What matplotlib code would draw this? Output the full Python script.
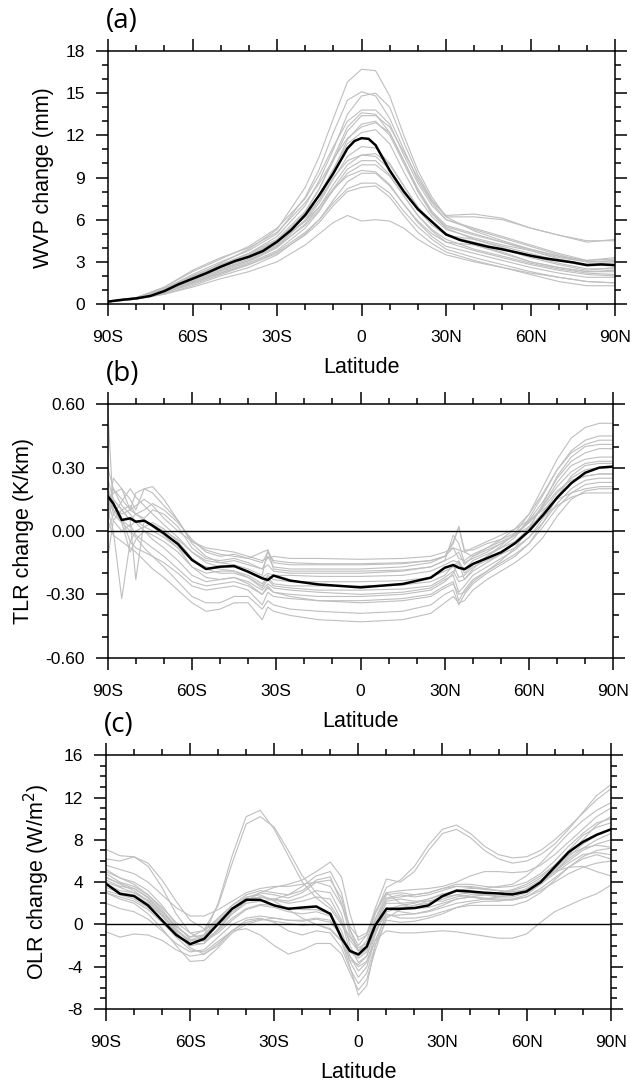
import matplotlib.pyplot as plt
from matplotlib.ticker import MultipleLocator, FormatStrFormatter

plt.rcParams['font.family'] = ['Liberation Sans', 'DejaVu Sans']
plt.rcParams['axes.unicode_minus'] = False

# Latitude tick labels
lat_ticks = [-90, -60, -30, 0, 30, 60, 90]
lat_labels = ["90S", "60S", "30S", "0", "30N", "60N", "90N"]

# ---------------- (a) WVP change (mm) ----------------
lat_a_mean = [-90, -85, -80, -75, -70, -65, -60, -55, -50, -45, -40, -35, -30, -25, -20, -15,
              -10, -5, -2.5, 0, 2.5, 5, 10, 15, 20, 25, 30, 35, 40, 45, 50, 55, 60, 65, 70, 75,
              80, 85, 90]
wvp_mean = [0.17, 0.3, 0.4, 0.57, 0.92, 1.4, 1.8, 2.2, 2.65, 3.05, 3.36, 3.77, 4.43, 5.26, 6.33,
            7.75, 9.3, 11.07, 11.6, 11.8, 11.75, 11.3, 9.5, 8.0, 6.75, 5.85, 4.95, 4.55, 4.31,
            4.07, 3.89, 3.67, 3.44, 3.25, 3.1, 2.96, 2.77, 2.82, 2.77]

lat_a = [-90, -80, -70, -60, -50, -40, -30, -20, -15, -10, -5, 0, 5, 10, 15, 20, 25, 30,
         40, 50, 60, 70, 80, 90]
wvp_models = [
    [0.15, 0.35, 0.9, 1.9, 2.9, 3.9, 5.3, 8.3, 10.5, 13.2, 15.8, 16.7, 16.6, 14.8, 12.0, 9.5, 7.6, 6.2, 5.2, 4.5, 3.9, 3.4, 3.0, 3.0],
    [0.15, 0.4, 1.1, 2.1, 3.0, 3.8, 5.0, 7.6, 9.6, 12.2, 14.5, 15.1, 14.8, 13.2, 11.0, 8.8, 7.2, 6.0, 5.4, 4.8, 4.2, 3.6, 3.1, 3.2],
    [0.2, 0.4, 1.0, 2.0, 2.8, 3.6, 4.8, 7.0, 8.8, 11.0, 13.5, 14.8, 15.0, 14.0, 11.5, 9.2, 7.4, 6.2, 6.2, 6.0, 5.4, 4.9, 4.4, 4.6],
    [0.15, 0.45, 1.2, 2.3, 3.2, 4.1, 5.4, 7.5, 9.2, 11.2, 13.0, 13.8, 13.8, 12.8, 10.6, 8.6, 7.0, 6.0, 5.3, 4.7, 4.1, 3.5, 3.0, 3.0],
    [0.2, 0.4, 0.9, 1.7, 2.6, 3.3, 4.3, 6.5, 8.2, 10.4, 12.6, 13.6, 13.5, 12.2, 10.2, 8.2, 6.6, 5.6, 5.0, 4.4, 3.8, 3.2, 2.8, 2.7],
    [0.15, 0.4, 1.0, 1.9, 2.8, 3.6, 4.6, 6.6, 8.2, 10.2, 12.3, 13.4, 13.4, 12.6, 10.8, 9.0, 7.3, 6.3, 6.4, 6.1, 5.4, 4.9, 4.5, 4.5],
    [0.15, 0.35, 0.8, 1.6, 2.4, 3.1, 4.1, 6.0, 7.4, 9.5, 11.7, 12.8, 13.0, 12.0, 10.0, 8.0, 6.4, 5.4, 4.6, 4.1, 3.6, 3.1, 2.7, 2.8],
    [0.2, 0.45, 1.1, 2.0, 2.8, 3.5, 4.5, 6.4, 7.8, 9.6, 11.4, 12.2, 12.4, 11.4, 9.4, 7.6, 6.2, 5.3, 4.7, 4.2, 3.8, 3.3, 3.0, 3.1],
    [0.15, 0.4, 0.9, 1.7, 2.5, 3.2, 4.2, 5.9, 7.2, 8.9, 10.5, 11.2, 11.1, 10.0, 8.4, 6.9, 5.8, 5.0, 4.2, 3.6, 3.0, 2.6, 2.3, 2.3],
    [0.2, 0.4, 1.0, 1.9, 2.7, 3.4, 4.5, 6.2, 7.4, 9.0, 10.2, 10.6, 10.5, 9.6, 8.1, 6.7, 5.6, 4.9, 4.6, 4.0, 3.4, 2.9, 2.5, 2.5],
    [0.15, 0.35, 0.8, 1.5, 2.2, 2.9, 3.8, 5.4, 6.6, 8.2, 9.6, 10.2, 10.2, 9.2, 7.7, 6.3, 5.3, 4.6, 3.9, 3.4, 2.9, 2.5, 2.2, 2.1],
    [0.15, 0.4, 0.9, 1.6, 2.4, 3.1, 4.1, 5.6, 6.7, 8.1, 9.3, 9.9, 9.9, 9.1, 7.7, 6.3, 5.2, 4.4, 3.8, 3.3, 2.8, 2.4, 2.1, 2.0],
    [0.2, 0.45, 1.1, 1.9, 2.7, 3.4, 4.4, 5.9, 6.9, 8.2, 9.1, 9.5, 9.4, 8.5, 7.1, 5.8, 4.8, 4.1, 3.6, 3.1, 2.6, 2.2, 1.9, 1.9],
    [0.15, 0.35, 0.7, 1.3, 2.0, 2.6, 3.5, 5.0, 6.0, 7.4, 8.7, 9.3, 9.3, 8.4, 7.1, 5.9, 5.0, 4.4, 4.2, 3.7, 3.0, 2.6, 2.3, 2.4],
    [0.15, 0.35, 0.8, 1.4, 2.1, 2.8, 3.7, 5.1, 6.0, 7.2, 8.2, 8.6, 8.6, 7.9, 6.6, 5.5, 4.6, 3.9, 3.3, 2.8, 2.3, 1.9, 1.6, 1.5],
    [0.15, 0.4, 0.9, 1.5, 2.2, 2.8, 3.6, 4.9, 5.8, 7.0, 8.0, 8.3, 8.4, 7.6, 6.3, 5.1, 4.3, 3.7, 3.1, 2.6, 2.1, 1.6, 1.3, 1.3],
    [0.15, 0.35, 0.7, 1.2, 1.8, 2.3, 3.0, 4.2, 5.0, 5.8, 6.3, 5.9, 6.0, 5.9, 5.4, 4.6, 4.0, 3.5, 3.0, 2.6, 2.2, 1.9, 1.6, 1.5],
    [0.2, 0.45, 1.2, 2.4, 3.3, 4.0, 5.1, 7.2, 8.6, 10.3, 11.8, 12.6, 12.9, 12.2, 10.2, 8.1, 6.5, 5.5, 4.9, 4.4, 3.9, 3.4, 3.1, 3.3],
    [0.15, 0.35, 0.8, 1.5, 2.3, 3.0, 4.0, 5.7, 6.9, 8.5, 9.9, 10.6, 10.7, 9.9, 8.4, 6.9, 5.8, 4.9, 4.4, 3.9, 3.3, 2.8, 2.4, 2.6],
]

# ---------------- (b) TLR change (K/km) ----------------
lat_b = [-90, -88, -85, -82, -80, -77, -74, -70, -65,
         -60, -55, -50, -45, -40, -35, -33, -31,
         -25, -15, 0, 15, 25,
         30, 33, 35, 37, 40, 45, 50, 55, 60, 65, 70, 75, 80, 85, 90]
tlr_mean = [0.165, 0.13, 0.052, 0.06, 0.044, 0.049, 0.025, -0.011, -0.062,
            -0.137, -0.18, -0.169, -0.166, -0.193, -0.224, -0.232, -0.211,
            -0.235, -0.253, -0.267, -0.251, -0.221,
            -0.174, -0.161, -0.174, -0.181, -0.156, -0.129, -0.101, -0.058, 0.0, 0.076, 0.158,
            0.226, 0.276, 0.3, 0.305]
tlr_models = [
    [0.10, 0.12, 0.08, 0.10, 0.12, 0.15, 0.12, 0.06, 0.00, -0.05, -0.08, -0.09, -0.10, -0.12, -0.14, -0.13, -0.12,
     -0.13, -0.13, -0.134, -0.13, -0.12, -0.10, -0.08, -0.09, -0.10, -0.08, -0.05, -0.02, 0.01, 0.05, 0.10, 0.15, 0.18, 0.20, 0.21, 0.21],
    [0.05, 0.15, 0.10, 0.05, 0.08, 0.10, 0.13, 0.10, 0.04, -0.04, -0.10, -0.12, -0.11, -0.13, -0.15, -0.10, -0.14,
     -0.15, -0.155, -0.155, -0.15, -0.14, -0.12, -0.08, -0.13, -0.14, -0.11, -0.08, -0.05, -0.02, 0.02, 0.07, 0.12, 0.16, 0.18, 0.18, 0.18],
    [0.30, 0.20, 0.15, 0.10, 0.18, 0.20, 0.18, 0.12, 0.05, -0.06, -0.12, -0.15, -0.14, -0.16, -0.18, -0.12, -0.17,
     -0.18, -0.18, -0.18, -0.17, -0.15, -0.12, -0.05, 0.02, -0.10, -0.12, -0.08, -0.04, 0.01, 0.08, 0.18, 0.29, 0.37, 0.41, 0.43, 0.43],
    [0.15, 0.05, 0.10, 0.12, 0.08, 0.06, 0.10, 0.08, 0.02, -0.08, -0.13, -0.14, -0.13, -0.15, -0.18, -0.16, -0.19,
     -0.20, -0.20, -0.20, -0.19, -0.17, -0.14, -0.12, -0.10, -0.16, -0.12, -0.09, -0.06, -0.02, 0.05, 0.14, 0.25, 0.33, 0.37, 0.39, 0.39],
    [0.05, 0.25, 0.20, 0.10, 0.08, 0.05, 0.03, 0.00, -0.04, -0.10, -0.15, -0.17, -0.17, -0.19, -0.22, -0.20, -0.21,
     -0.21, -0.215, -0.215, -0.21, -0.19, -0.16, -0.14, -0.15, -0.18, -0.14, -0.11, -0.08, -0.05, 0.01, 0.09, 0.18, 0.25, 0.29, 0.30, 0.30],
    [0.58, 0.10, 0.05, 0.02, 0.05, 0.02, 0.00, -0.03, -0.08, -0.14, -0.17, -0.18, -0.19, -0.21, -0.25, -0.21, -0.23,
     -0.24, -0.24, -0.24, -0.235, -0.22, -0.19, -0.17, -0.14, -0.20, -0.16, -0.12, -0.08, -0.03, 0.06, 0.17, 0.29, 0.38, 0.43, 0.45, 0.45],
    [0.20, 0.12, 0.06, -0.05, 0.00, 0.02, 0.04, 0.01, -0.05, -0.13, -0.18, -0.20, -0.20, -0.22, -0.26, -0.22, -0.25,
     -0.26, -0.26, -0.26, -0.255, -0.24, -0.21, -0.16, -0.22, -0.21, -0.17, -0.14, -0.11, -0.08, -0.03, 0.04, 0.13, 0.20, 0.24, 0.25, 0.25],
    [-0.13, 0.05, 0.00, 0.03, -0.02, -0.05, -0.08, -0.12, -0.18, -0.24, -0.26, -0.25, -0.24, -0.26, -0.30, -0.27, -0.29,
     -0.30, -0.31, -0.31, -0.30, -0.28, -0.24, -0.20, -0.15, -0.23, -0.18, -0.12, -0.07, -0.01, 0.08, 0.21, 0.34, 0.44, 0.49, 0.51, 0.51],
    [0.10, 0.00, -0.32, -0.05, -0.08, -0.10, -0.12, -0.15, -0.20, -0.26, -0.28, -0.27, -0.26, -0.28, -0.35, -0.29, -0.31,
     -0.32, -0.33, -0.33, -0.32, -0.30, -0.26, -0.24, -0.33, -0.28, -0.23, -0.19, -0.15, -0.11, -0.06, 0.02, 0.11, 0.18, 0.22, 0.23, 0.23],
    [0.25, 0.15, 0.10, 0.05, -0.23, 0.05, 0.02, -0.02, -0.08, -0.17, -0.22, -0.23, -0.22, -0.25, -0.30, -0.26, -0.29,
     -0.31, -0.33, -0.34, -0.33, -0.31, -0.27, -0.25, -0.30, -0.29, -0.24, -0.19, -0.14, -0.08, 0.01, 0.13, 0.26, 0.35, 0.40, 0.41, 0.41],
    [0.00, 0.08, 0.04, 0.00, -0.03, -0.08, -0.12, -0.17, -0.24, -0.31, -0.34, -0.34, -0.31, -0.31, -0.37, -0.33, -0.35,
     -0.37, -0.38, -0.39, -0.38, -0.35, -0.30, -0.28, -0.35, -0.30, -0.25, -0.20, -0.16, -0.12, -0.06, 0.04, 0.16, 0.26, 0.31, 0.32, 0.32],
    [0.05, -0.02, -0.05, -0.08, -0.10, -0.14, -0.18, -0.22, -0.28, -0.34, -0.38, -0.37, -0.34, -0.34, -0.42, -0.36, -0.38,
     -0.40, -0.42, -0.43, -0.42, -0.39, -0.34, -0.31, -0.34, -0.33, -0.28, -0.23, -0.19, -0.15, -0.10, -0.03, 0.07, 0.15, 0.19, 0.20, 0.20],
    [0.12, 0.18, 0.20, 0.15, 0.10, 0.20, 0.21, 0.15, 0.05, -0.05, -0.09, -0.11, -0.12, -0.13, -0.10, -0.09, -0.15,
     -0.16, -0.16, -0.16, -0.155, -0.14, -0.12, -0.06, 0.02, -0.09, -0.09, -0.06, -0.04, -0.01, 0.04, 0.11, 0.19, 0.24, 0.26, 0.27, 0.27],
    [0.08, 0.20, 0.12, 0.08, 0.04, 0.00, -0.02, -0.05, -0.10, -0.17, -0.20, -0.19, -0.19, -0.22, -0.27, -0.23, -0.26,
     -0.27, -0.28, -0.28, -0.275, -0.26, -0.22, -0.19, -0.24, -0.23, -0.19, -0.15, -0.11, -0.06, 0.02, 0.12, 0.23, 0.31, 0.34, 0.35, 0.35],
    [0.22, 0.08, 0.14, 0.20, 0.16, 0.12, 0.08, 0.03, -0.03, -0.10, -0.14, -0.15, -0.16, -0.18, -0.21, -0.09, -0.18,
     -0.19, -0.19, -0.19, -0.185, -0.17, -0.14, -0.02, -0.06, -0.15, -0.13, -0.10, -0.06, -0.02, 0.04, 0.12, 0.21, 0.28, 0.32, 0.33, 0.33],
    [0.14, 0.10, 0.04, -0.10, -0.04, 0.00, -0.04, -0.08, -0.14, -0.21, -0.24, -0.23, -0.22, -0.24, -0.28, -0.25, -0.27,
     -0.28, -0.29, -0.30, -0.29, -0.27, -0.23, -0.21, -0.29, -0.26, -0.21, -0.17, -0.13, -0.09, -0.03, 0.06, 0.16, 0.23, 0.26, 0.27, 0.27],
]

# ---------------- (c) OLR change (W/m2) ----------------
lat_c = [-90, -85, -80, -75, -70, -65, -60, -55, -50, -45, -40, -35, -30, -25, -20, -15, -10,
         -6, -3, 0, 3, 6,
         10, 15, 20, 25, 30, 35, 40, 45, 50, 55, 60, 65, 70, 75, 80, 85, 90]
olr_mean = [3.85, 2.9, 2.68, 1.8, 0.38, -0.98, -1.86, -1.36, 0.06, 1.48, 2.33, 2.33, 1.8, 1.48, 1.6, 1.7, 1.0,
            -1.3, -2.5, -2.84, -2.1, -0.1,
            1.48, 1.48, 1.55, 1.8, 2.68, 3.2, 3.12, 3.0, 2.93, 2.84, 3.12, 4.0, 5.42, 6.84, 7.79, 8.48, 8.99]
olr_models = [
    [4.5, 3.8, 3.2, 2.2, 0.8, -0.8, -2.0, -1.0, 2.0, 6.5, 10.2, 10.8, 9.0, 6.5, 4.0, 2.5, 1.5, 0.0, -1.5, -2.5, -2.0, 0.0,
     2.5, 2.8, 2.6, 2.8, 3.2, 3.6, 3.5, 3.3, 3.2, 3.1, 3.3, 4.0, 5.0, 6.2, 7.2, 8.0, 8.6],
    [5.2, 4.4, 3.8, 2.8, 1.4, -0.2, -1.2, -0.5, 1.8, 5.8, 9.5, 10.2, 9.2, 7.0, 4.6, 3.0, 1.8, 0.2, -1.2, -2.2, -1.8, 0.5,
     2.8, 3.0, 2.8, 3.0, 3.4, 3.8, 3.8, 3.6, 3.5, 3.6, 4.0, 4.8, 6.0, 7.4, 8.6, 9.6, 10.0],
    [7.1, 6.5, 6.4, 5.5, 3.5, 1.0, -0.8, -1.5, -0.5, 1.0, 2.2, 3.0, 3.5, 3.8, 4.2, 5.0, 5.9, 4.5, 1.0, -1.5, -1.0, 1.0,
     3.0, 2.0, 1.5, 1.6, 2.0, 2.4, 2.6, 2.8, 3.0, 3.3, 3.8, 4.6, 5.6, 6.6, 7.2, 7.5, 7.3],
    [3.5, 3.0, 2.8, 2.0, 0.8, -0.5, -1.5, -1.0, 0.6, 1.8, 2.8, 3.2, 3.0, 2.8, 3.2, 4.2, 4.5, 2.0, -1.0, -2.5, -1.5, 1.0,
     3.5, 4.2, 5.5, 7.5, 9.0, 9.4, 8.6, 7.4, 6.6, 6.3, 6.4, 7.0, 8.0, 9.2, 10.5, 11.8, 12.8],
    [4.0, 3.5, 3.0, 2.3, 1.2, -0.2, -1.2, -1.0, 0.2, 1.5, 2.5, 3.0, 2.8, 2.5, 3.0, 4.0, 4.2, 2.5, -0.5, -2.0, -1.0, 1.5,
     4.3, 4.0, 5.0, 7.0, 8.6, 9.0, 8.2, 7.0, 6.2, 5.8, 6.0, 6.6, 7.6, 9.0, 10.6, 12.2, 13.2],
    [2.0, 1.5, 1.2, 0.5, -0.6, -1.8, -2.6, -2.4, -1.2, 0.0, 0.6, 0.8, 0.6, 0.4, 0.3, 0.5, 0.2, -1.0, -3.0, -4.0, -3.5, -1.5,
     -0.6, -0.8, -0.8, -0.7, -0.6, -0.7, -0.9, -1.1, -1.3, -1.3, -0.9, 0.2, 1.2, 1.8, 2.4, 2.9, 3.7],
    [-0.7, -1.2, -0.9, -1.0, -1.5, -2.4, -3.0, -2.8, -1.8, -0.6, 0.2, 0.5, 0.3, 0.1, -0.1, 0.0, -0.4, -1.5, -3.5, -5.0, -4.0, -1.5,
     0.8, 0.9, 1.0, 1.2, 1.6, 2.0, 2.2, 2.4, 2.6, 2.8, 3.4, 4.2, 5.0, 5.4, 5.5, 5.0, 4.6],
    [3.0, 2.6, 2.2, 1.4, 0.2, -1.2, -2.4, -2.6, -1.6, -0.6, -0.4, -1.0, -2.0, -2.8, -2.4, -1.8, -1.8, -2.8, -4.6, -6.2, -5.2, -2.5,
     0.6, 1.4, 1.8, 2.0, 2.4, 2.8, 3.0, 3.0, 3.0, 3.2, 3.6, 4.4, 5.6, 7.0, 8.4, 9.2, 9.6],
    [4.8, 4.0, 3.6, 2.8, 1.6, 0.2, -0.8, -0.6, 0.6, 1.8, 2.6, 2.8, 2.2, 1.4, 0.6, 0.0, -0.5, -1.6, -4.0, -6.7, -5.8, -2.0,
     1.2, 1.6, 1.8, 2.2, 2.6, 2.8, 2.6, 2.4, 2.3, 2.3, 2.6, 3.4, 4.4, 5.4, 6.2, 6.6, 6.2],
    [5.6, 5.2, 4.8, 4.0, 2.8, 1.6, 0.8, 0.8, 1.4, 2.2, 3.0, 3.4, 3.6, 3.6, 3.8, 4.0, 3.6, 1.8, -0.2, -1.2, -0.8, 1.2,
     3.0, 3.2, 3.3, 3.4, 3.6, 4.0, 4.6, 5.0, 5.0, 4.9, 5.0, 5.6, 6.6, 7.8, 9.0, 10.2, 11.0],
    [3.2, 2.8, 2.4, 1.6, 0.4, -1.0, -2.0, -1.8, -0.6, 0.6, 1.5, 1.9, 1.8, 1.6, 1.4, 1.4, 1.0, -0.6, -3.0, -4.4, -3.6, -1.0,
     1.6, 1.2, 1.0, 1.3, 1.8, 2.4, 2.6, 2.5, 2.4, 2.4, 2.6, 3.2, 4.0, 4.8, 5.4, 5.8, 6.0],
    [4.2, 3.6, 3.4, 2.6, 1.2, -0.4, -1.8, -1.8, -0.4, 1.2, 2.2, 2.6, 2.3, 2.0, 2.2, 2.6, 2.4, 0.4, -2.6, -3.2, -2.6, 0.2,
     2.0, 2.0, 2.1, 2.4, 2.8, 3.2, 3.4, 3.4, 3.6, 3.8, 4.6, 5.8, 7.2, 8.6, 9.8, 10.8, 11.5],
    [5.0, 4.4, 4.0, 3.2, 1.8, 0.0, -1.4, -1.6, -0.8, 0.4, 1.4, 1.8, 1.6, 1.2, 1.0, 1.2, 0.8, -1.0, -3.4, -3.8, -3.0, -0.8,
     1.4, 1.8, 2.0, 2.4, 2.9, 3.1, 3.0, 2.8, 2.7, 2.8, 3.2, 4.0, 5.0, 6.0, 7.0, 7.6, 8.0],
    [3.0, 2.4, 2.0, 1.0, -0.4, -2.0, -3.5, -3.4, -2.2, -0.8, 0.0, 0.4, 0.6, 0.4, 0.4, 0.6, 0.4, -1.2, -2.4, -3.0, -2.4, -0.6,
     1.0, 0.6, 0.6, 0.8, 1.2, 1.6, 1.8, 1.8, 1.8, 1.8, 2.2, 3.0, 4.2, 5.4, 6.4, 7.0, 7.2],
    [6.2, 6.0, 6.4, 5.8, 4.2, 2.2, 0.4, -0.4, 0.0, 1.0, 2.0, 2.2, 2.4, 2.8, 3.6, 4.6, 5.0, 3.0, -0.5, -2.5, -2.0, 0.5,
     2.4, 2.6, 2.8, 3.0, 3.4, 3.6, 3.6, 3.4, 3.2, 3.0, 3.2, 4.0, 5.2, 6.6, 8.0, 9.4, 10.2],
    [3.8, 3.2, 3.0, 2.2, 0.9, -0.7, -2.2, -2.8, -2.0, -0.6, 0.4, 0.6, 0.2, -0.6, -1.0, -0.6, -0.8, -2.2, -4.2, -5.6, -4.6, -2.0,
     0.4, 0.2, 0.3, 0.6, 1.0, 1.6, 2.0, 2.2, 2.2, 2.4, 2.8, 3.8, 5.0, 6.4, 7.6, 8.4, 9.0],
    [4.4, 3.9, 3.4, 2.5, 1.0, -0.6, -1.6, -1.2, 0.4, 1.6, 2.4, 2.6, 2.4, 2.2, 2.6, 3.2, 3.0, 1.0, -2.0, -3.6, -3.0, -0.4,
     2.2, 2.4, 2.2, 2.2, 2.2, 2.6, 2.8, 2.8, 2.6, 2.6, 3.0, 3.8, 4.8, 5.8, 6.6, 6.8, 6.6],
]

gray = "#bfbfbf"

fig = plt.figure(figsize=(6.31, 10.83), dpi=100)


# Function to draw one panel
def draw_panel(rect, lat_models, models, lat_mean, mean, ylim, ystep, yminor, ylabel, fmt, tag, zero_line):
    ax = fig.add_axes(rect)
    for m in models:
        ax.plot(lat_models, m, color=gray, lw=0.8, zorder=2)
    if zero_line:
        ax.axhline(0, color="black", lw=1.0, zorder=3)
    ax.plot(lat_mean, mean, color="black", lw=1.8, zorder=4)

    ax.set_xlim(-90, 90)
    ax.set_ylim(*ylim)
    ax.set_xticks(lat_ticks)
    ax.set_xticklabels(lat_labels)
    ax.xaxis.set_minor_locator(MultipleLocator(10))
    ax.yaxis.set_major_locator(MultipleLocator(ystep))
    ax.yaxis.set_minor_locator(MultipleLocator(yminor))
    ax.yaxis.set_major_formatter(FormatStrFormatter(fmt))

    ax.tick_params(which="both", direction="out", top=True, right=True, width=1.1)
    ax.tick_params(which="major", length=8.6)
    ax.tick_params(which="minor", length=4.3)
    ax.tick_params(axis="x", which="major", labelsize=12.5, pad=10)
    ax.tick_params(axis="y", which="major", labelsize=12.5, pad=8)
    for s in ax.spines.values():
        s.set_linewidth(1.1)

    ax.set_xlabel("Latitude", fontsize=15.5, labelpad=9)
    ax.set_ylabel(ylabel, fontsize=15.5, labelpad=8)

    # Panel tag above the frame
    fig.text(rect[0] - 0.003, rect[1] + rect[3] + 0.028, tag, family="Open Sans",
             fontsize=20, va="center", ha="left")
    return ax


draw_panel([0.1712, 0.7193, 0.8035, 0.2336], lat_a, wvp_models, lat_a_mean, wvp_mean,
           (0, 18), 3, 1, "WVP change (mm)", "%d", "(a)", False)
draw_panel([0.1707, 0.3927, 0.8013, 0.2340], lat_b, tlr_models, lat_b, tlr_mean,
           (-0.6, 0.6), 0.3, 0.1, "TLR change (K/km)", "%.2f", "(b)", True)
draw_panel([0.1680, 0.0683, 0.7998, 0.2343], lat_c, olr_models, lat_c, olr_mean,
           (-8, 16), 4, 1, "OLR change (W/m$^2$)", "%d", "(c)", True)

plt.savefig("out.png", dpi=100)
